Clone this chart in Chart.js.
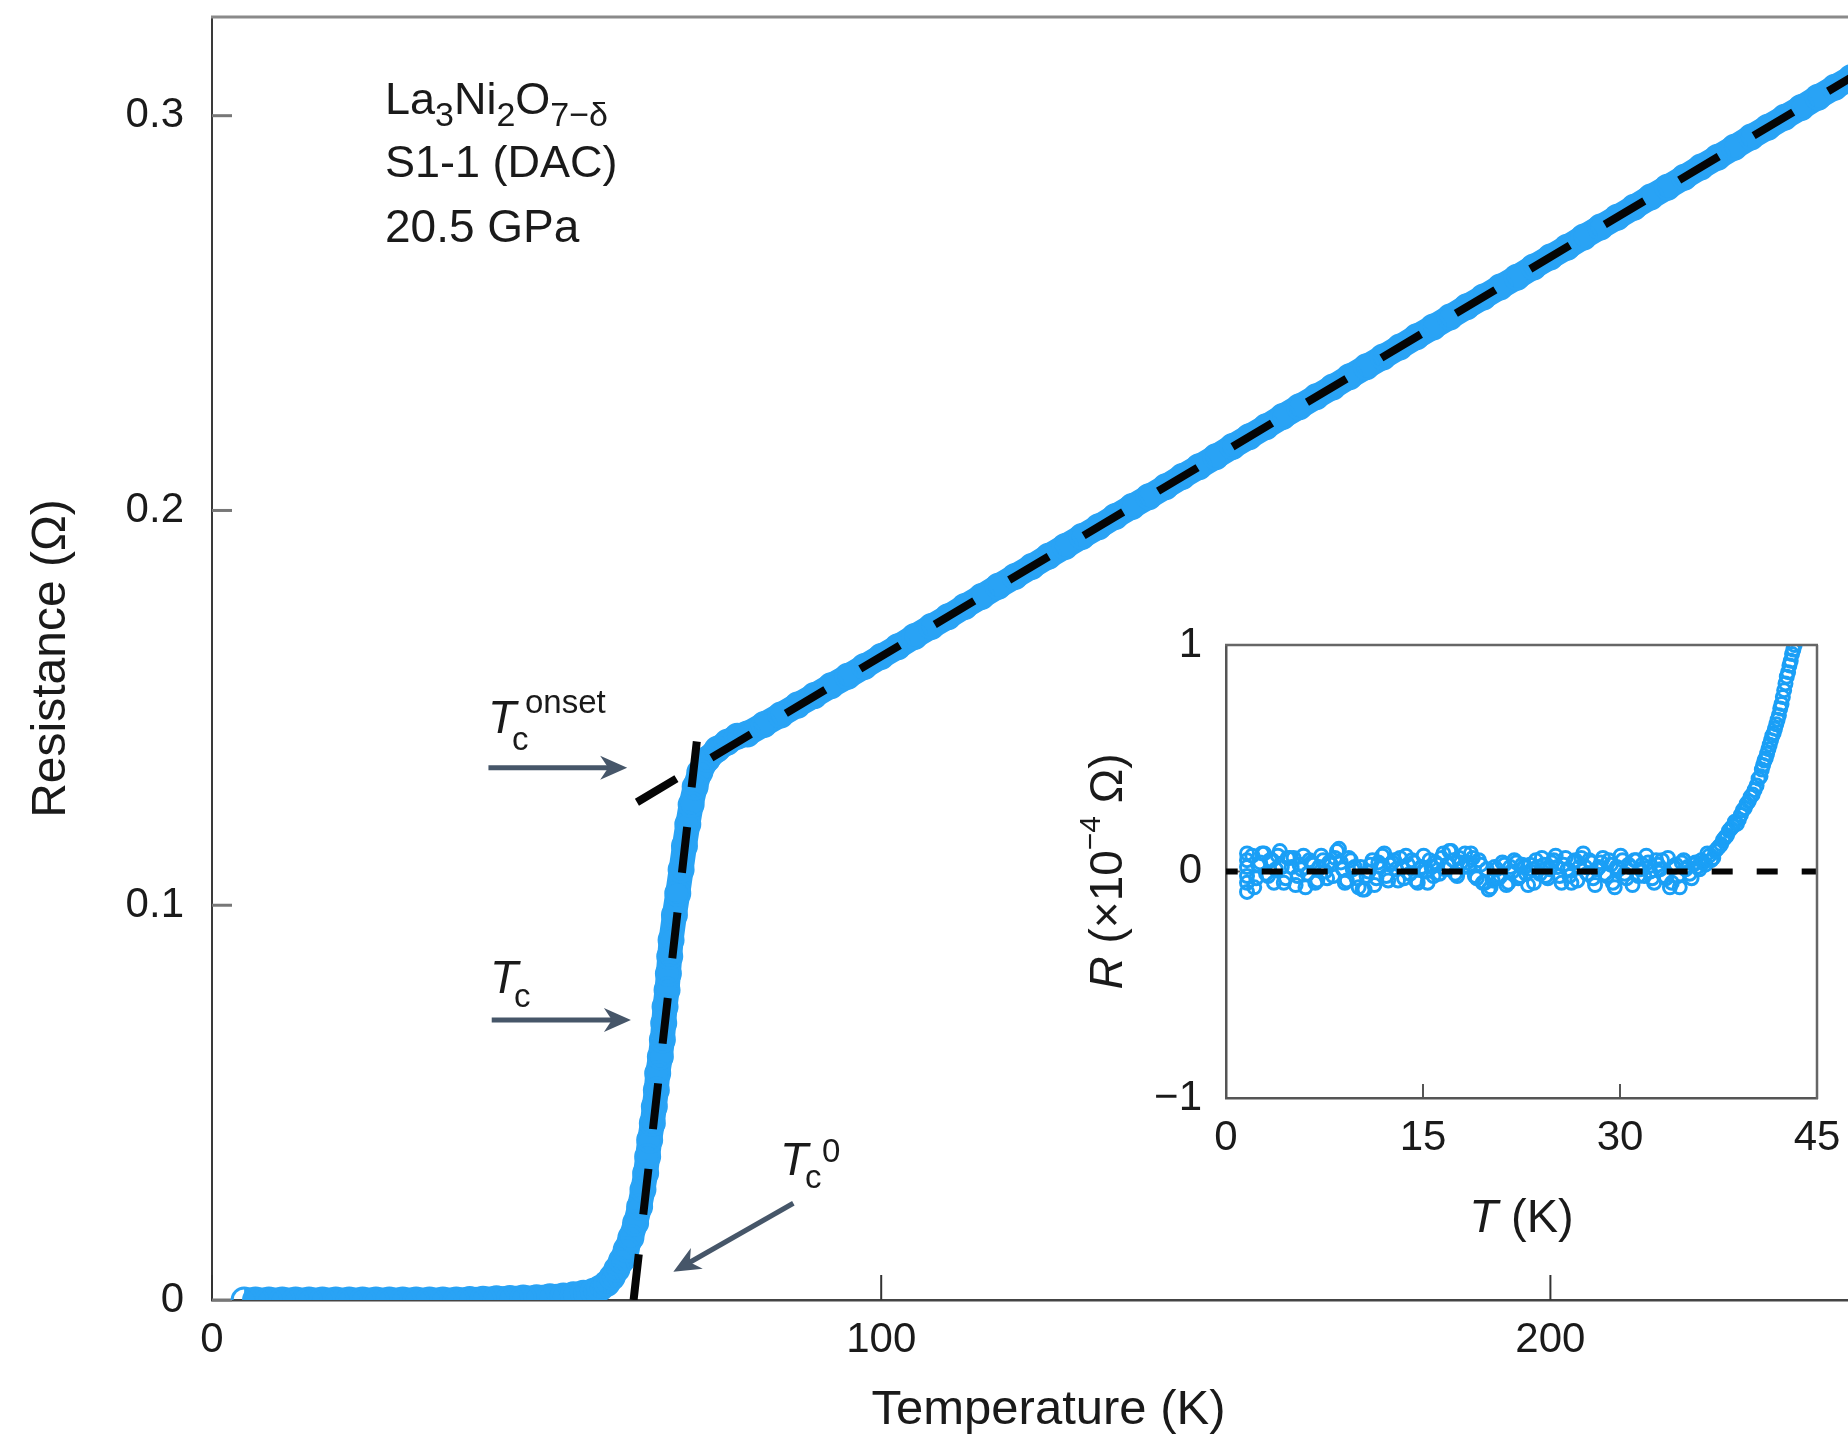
<!DOCTYPE html>
<html>
<head>
<meta charset="utf-8">
<script src="https://cdn.jsdelivr.net/npm/chart.js@4.4.1/dist/chart.umd.min.js"></script>
<style>
  html, body { margin: 0; padding: 0; background: #fff; overflow: hidden; }
  #wrap { position: relative; width: 1848px; height: 1435px; overflow: hidden; background: #fff; }
  #main { position: absolute; left: 0; top: 0; width: 1885px; height: 1435px; }
  #inset { position: absolute; left: 1040px; top: 600px; width: 820px; height: 680px; }
</style>
</head>
<body>
<div id="wrap">
  <canvas id="main" width="1885" height="1435"></canvas>
  <canvas id="inset" width="820" height="680"></canvas>
</div>
<script>
const FONT = '"Liberation Sans", Arial, Helvetica, sans-serif';
const INK = '#1a1a1a';
const BLUE = '#29a3f5';
const INSET_BLUE = '#1a9ff6';
const ARROW = '#465669';

// Resistance versus temperature: T in K, R in ohm
const curveT = [
  4.8, 6.5, 8.5, 10.5, 12.5, 14.5, 16.5, 18.5, 20.5, 22.5,
  24.5, 26.5, 28.5, 30.5, 32.5, 34.5, 36.5, 38.5, 40.5, 42.5,
  44.5, 46.5, 48.5, 50.5, 52.5, 54.0, 55.5, 57.0, 58.0, 59.0,
  59.8, 60.5, 61.2, 61.9, 62.6, 63.3, 63.9, 64.4, 64.8, 65.1,
  65.4, 65.8, 66.1, 66.4, 66.6, 67.0, 67.3, 67.5, 67.7, 68.0,
  68.2, 68.4, 68.6, 69.1, 69.6, 70.1, 70.6, 71.1, 71.6, 72.2,
  72.9, 74.0, 75.5, 77.0, 78.5,
  80, 82.5, 85, 87.5, 90, 92.5, 95, 97.5, 100, 102.5,
  105, 107.5, 110, 112.5, 115, 117.5, 120, 122.5, 125, 127.5,
  130, 132.5, 135, 137.5, 140, 142.5, 145, 147.5, 150, 152.5,
  155, 157.5, 160, 162.5, 165, 167.5, 170, 172.5, 175, 177.5,
  180, 182.5, 185, 187.5, 190, 192.5, 195, 197.5, 200, 202.5,
  205, 207.5, 210, 212.5, 215, 217.5, 220, 222.5, 225, 227.5,
  230, 232.5, 235, 237.5, 240, 242.5, 245, 247.5, 250
];
const curveR = [
  0, 0, 0, 0, 0, 0, 0, 0, 0, 0,
  0, 0, 0, 0, 0, 0, 0, 0.0001, 0.0002, 0.0003,
  0.0004, 0.0005, 0.0006, 0.0008, 0.0010, 0.0013, 0.0017, 0.0022, 0.0030, 0.0042,
  0.0058, 0.0078, 0.0100, 0.0128, 0.0158, 0.0195, 0.0236, 0.0280, 0.0321, 0.0363,
  0.0405, 0.0448, 0.0490, 0.0532, 0.0574, 0.0616, 0.0659, 0.0701, 0.0743, 0.0785,
  0.0827, 0.0870, 0.0912, 0.0975, 0.1030, 0.1090, 0.1150, 0.1205, 0.1255, 0.1300,
  0.1337, 0.1370, 0.1395, 0.1413, 0.1428,
  0.1434, 0.1458, 0.1482, 0.1507, 0.1531, 0.1556, 0.1580, 0.1605, 0.1630, 0.1655,
  0.1681, 0.1706, 0.1731, 0.1757, 0.1782, 0.1808, 0.1833, 0.1858, 0.1884, 0.1909,
  0.1934, 0.1959, 0.1985, 0.2010, 0.2035, 0.2060, 0.2086, 0.2111, 0.2136, 0.2162,
  0.2187, 0.2212, 0.2238, 0.2263, 0.2288, 0.2313, 0.2339, 0.2364, 0.2389, 0.2414,
  0.2440, 0.2465, 0.2490, 0.2516, 0.2541, 0.2566, 0.2591, 0.2617, 0.2642, 0.2667,
  0.2693, 0.2718, 0.2743, 0.2768, 0.2794, 0.2819, 0.2844, 0.2870, 0.2895, 0.2920,
  0.2946, 0.2971, 0.2996, 0.3021, 0.3047, 0.3072, 0.3097, 0.3122, 0.3148
];

// Dashed linear guides: normal-state line and transition line
const normalFitT = [63.5, 250];
const normalFitR = [0.1261, 0.3148];
const transitionFitT = [63.0, 72.5];
const transitionFitR = [0, 0.1423];

// Main axis ticks
const xTickValues = [0, 100, 200];
const xTickLabels = ['0', '100', '200'];
const yTickValues = [0, 0.1, 0.2, 0.3];
const yTickLabels = ['0', '0.1', '0.2', '0.3'];

// Inset: low-temperature resistance, R in units of 1e-4 ohm (two interleaved sweeps)
const insetT = [
  1.6, 1.6, 1.6, 1.6, 1.6, 1.6,
  2.0, 2.3, 2.6, 2.9, 3.2, 3.5, 3.8, 4.1, 4.4, 4.7,
  5.0, 5.3, 5.6, 5.9, 6.2, 6.5, 6.8, 7.1, 7.4, 7.7,
  8.0, 8.3, 8.6, 8.9, 9.2, 9.5, 9.8, 10.1, 10.4, 10.7,
  11.0, 11.3, 11.6, 11.9, 12.2, 12.5, 12.8, 13.1, 13.4, 13.7,
  14.0, 14.3, 14.6, 14.9, 15.2, 15.5, 15.8, 16.1, 16.4, 16.7,
  17.0, 17.3, 17.6, 17.9, 18.2, 18.5, 18.8, 19.1, 19.4, 19.7,
  20.0, 20.3, 20.6, 20.9, 21.2, 21.5, 21.8, 22.1, 22.4, 22.7,
  23.0, 23.3, 23.6, 23.9, 24.2, 24.5, 24.8, 25.1, 25.4, 25.7,
  26.0, 26.3, 26.6, 26.9, 27.2, 27.5, 27.8, 28.1, 28.4, 28.7,
  29.0, 29.3, 29.6, 29.9, 30.2, 30.5, 30.8, 31.1, 31.4, 31.7,
  32.0, 32.3, 32.6, 32.9, 33.2, 33.5, 33.8, 34.1, 34.4, 34.7,
  35.0, 35.3, 35.6, 35.9, 36.2, 36.5, 36.8, 37.1, 37.4, 37.7,
  38.0, 38.3, 38.6, 38.9, 39.2, 39.5, 39.8, 40.1, 40.4, 40.7,
  40.9, 41.1, 41.3, 41.5, 41.7, 41.9, 42.1, 42.3, 42.5, 42.7,
  42.9, 43.1, 43.3,
  2.15, 2.45, 2.75, 3.05, 3.35, 3.65, 3.95, 4.25, 4.55, 4.85,
  5.15, 5.45, 5.75, 6.05, 6.35, 6.65, 6.95, 7.25, 7.55, 7.85,
  8.15, 8.45, 8.75, 9.05, 9.35, 9.65, 9.95, 10.25, 10.55, 10.85,
  11.15, 11.45, 11.75, 12.05, 12.35, 12.65, 12.95, 13.25, 13.55, 13.85,
  14.15, 14.45, 14.75, 15.05, 15.35, 15.65, 15.95, 16.25, 16.55, 16.85,
  17.15, 17.45, 17.75, 18.05, 18.35, 18.65, 18.95, 19.25, 19.55, 19.85,
  20.15, 20.45, 20.75, 21.05, 21.35, 21.65, 21.95, 22.25, 22.55, 22.85,
  23.15, 23.45, 23.75, 24.05, 24.35, 24.65, 24.95, 25.25, 25.55, 25.85,
  26.15, 26.45, 26.75, 27.05, 27.35, 27.65, 27.95, 28.25, 28.55, 28.85,
  29.15, 29.45, 29.75, 30.05, 30.35, 30.65, 30.95, 31.25, 31.55, 31.85,
  32.15, 32.45, 32.75, 33.05, 33.35, 33.65, 33.95, 34.25, 34.55, 34.85,
  35.15, 35.45, 35.75, 36.05,
  36.35, 36.65, 36.95, 37.25, 37.55, 37.85, 38.15, 38.45, 38.75, 39.05,
  39.35, 39.65, 39.95, 40.25, 40.55, 40.8, 41.0, 41.2, 41.4, 41.6,
  41.8, 42.0, 42.2, 42.4, 42.6, 42.8, 43.0, 43.2
];
const insetR = [
  0.08, 0.05, 0.02, -0.02, -0.05, -0.09,
  0.07, -0.03, 0.04, 0.08, -0.02, 0.05, 0.01, 0.09, -0.05, 0.06,
  0.02, -0.06, 0.03, 0.07, -0.01, 0.04, -0.05, 0.02, 0.05, -0.03,
  0.03, 0.06, 0.10, 0.01, -0.04, 0.05, 0.02, -0.07, -0.08, -0.02,
  0.03, -0.06, 0.04, 0.07, -0.02, 0.03, 0.05, -0.04, 0.02, 0.07,
  -0.01, 0.04, -0.05, 0.02, 0.00, 0.05, -0.02, 0.03, 0.06, 0.01,
  0.09, 0.05, -0.02, 0.04, 0.08, 0.02, 0.06, -0.03, 0.03, -0.05,
  -0.08, -0.04, 0.01, -0.02, 0.03, -0.05, 0.00, 0.04, -0.02, 0.02,
  -0.06, 0.01, 0.05, -0.01, 0.03, -0.03, 0.04, 0.07, -0.02, 0.03,
  0.01, -0.05, 0.05, 0.02, 0.08, -0.01, 0.04, -0.06, 0.02, 0.06,
  -0.02, 0.03, -0.07, 0.01, 0.05, -0.03, 0.02, 0.05, -0.02, 0.03,
  0.07, 0.00, -0.05, 0.03, 0.05, -0.03, -0.07, 0.02, -0.02, 0.04,
  0.01, -0.01, 0.03, 0.02, 0.05, 0.03, 0.07, 0.06, 0.10, 0.12,
  0.15, 0.18, 0.20, 0.21, 0.25, 0.28, 0.31, 0.34, 0.38, 0.42,
  0.47, 0.50, 0.54, 0.58, 0.61, 0.65, 0.69, 0.74, 0.80, 0.86,
  0.91, 0.96, 1.00,
  -0.07, 0.03, 0.08, -0.01, 0.05, -0.05, 0.07, 0.02, -0.03, 0.06,
  0.06, -0.02, 0.01, -0.07, 0.05, 0.03, -0.04, 0.07, 0.00, 0.04,
  -0.02, 0.09, 0.04, -0.05, 0.06, 0.01, -0.03, 0.02, -0.08, 0.00,
  0.05, -0.03, 0.02, 0.08, -0.04, 0.04, 0.01, 0.06, -0.03, 0.03,
  0.05, -0.04, 0.01, 0.07, -0.05, 0.02, 0.04, -0.01, 0.08, 0.03,
  0.09, -0.01, 0.06, 0.02, 0.04, 0.08, -0.02, 0.05, -0.05, 0.01,
  -0.07, 0.02, -0.03, 0.04, -0.06, 0.02, 0.05, -0.03, 0.03, -0.01,
  0.03, -0.05, 0.02, 0.06, -0.02, 0.01, 0.05, 0.02, -0.05, 0.06,
  -0.02, 0.04, -0.04, 0.06, 0.02, 0.05, -0.03, 0.01, 0.04, -0.01,
  0.05, -0.05, 0.02, 0.07, -0.01, 0.03, -0.06, 0.05, 0.01, -0.02,
  0.04, -0.03, 0.05, 0.01, -0.02, 0.06, -0.05, 0.03, -0.07, 0.05,
  0.02, -0.03, 0.04, 0.01,
  0.04, 0.08, 0.05, 0.09, 0.11, 0.14, 0.16, 0.19, 0.22, 0.23,
  0.27, 0.30, 0.33, 0.36, 0.41, 0.45, 0.49, 0.52, 0.56, 0.60,
  0.63, 0.67, 0.72, 0.77, 0.83, 0.88, 0.93, 0.98
];
const insetZeroT = [0, 45];
const insetZeroR = [0, 0];
const insetXTickValues = [0, 15, 30, 45];
const insetXTickLabels = ['0', '15', '30', '45'];
const insetYTickValues = [-1, 0, 1];
const insetYTickLabels = ['\u22121', '0', '1'];

const pts = (xs, ys) => xs.map((x, i) => ({ x, y: ys[i] }));
const font = (size, style) => (style ? style + ' ' : '') + size + 'px ' + FONT;

// ---------- text helpers ----------
function drawRuns(ctx, x, y, runs) {
  let cur = 0;
  runs.forEach(r => {
    ctx.font = r.f;
    const xx = r.ox !== undefined ? r.ox : cur;
    ctx.fillText(r.t, x + xx, y + (r.oy || 0));
    cur = xx + ctx.measureText(r.t).width;
  });
  return cur;
}
function runsWidth(ctx, runs) {
  let cur = 0;
  runs.forEach(r => {
    ctx.font = r.f;
    const xx = r.ox !== undefined ? r.ox : cur;
    cur = xx + ctx.measureText(r.t).width;
  });
  return cur;
}
function drawArrow(ctx, x0, y0, x1, y1, s) {
  const ang = Math.atan2(y1 - y0, x1 - x0);
  const ux = Math.cos(ang), uy = Math.sin(ang);
  const bx = x1 - ux * s.head, by = y1 - uy * s.head;
  const nx = x1 - ux * (s.head - s.notch), ny = y1 - uy * (s.head - s.notch);
  ctx.strokeStyle = s.color;
  ctx.fillStyle = s.color;
  ctx.lineWidth = s.width;
  ctx.lineCap = 'butt';
  ctx.beginPath();
  ctx.moveTo(x0, y0);
  ctx.lineTo(nx + ux, ny + uy);
  ctx.stroke();
  ctx.beginPath();
  ctx.moveTo(x1, y1);
  ctx.lineTo(bx - uy * s.half, by + ux * s.half);
  ctx.lineTo(nx, ny);
  ctx.lineTo(bx + uy * s.half, by - ux * s.half);
  ctx.closePath();
  ctx.fill();
}

// ---------- plugins ----------
// Inward tick marks plus the extra frame sides (top / right)
const frame = {
  id: 'frame',
  beforeDatasetsDraw(chart, args, o) {
    const { ctx, chartArea: a, scales: { x, y } } = chart;
    ctx.save();
    ctx.lineCap = 'butt';
    ctx.strokeStyle = o.xTickColor;
    ctx.lineWidth = o.xTickWidth;
    x.ticks.forEach(t => {
      const p = x.getPixelForValue(t.value);
      ctx.beginPath();
      ctx.moveTo(p, a.bottom);
      ctx.lineTo(p, a.bottom - o.xTickLength);
      ctx.stroke();
    });
    ctx.strokeStyle = o.yTickColor;
    ctx.lineWidth = o.yTickWidth;
    y.ticks.forEach(t => {
      const p = y.getPixelForValue(t.value);
      ctx.beginPath();
      ctx.moveTo(a.left, p);
      ctx.lineTo(a.left + o.yTickLength, p);
      ctx.stroke();
    });
    ctx.restore();
  },
  afterDraw(chart, args, o) {
    const { ctx, chartArea: a } = chart;
    ctx.save();
    ctx.strokeStyle = o.frameColor;
    ctx.lineWidth = o.frameWidth;
    ctx.beginPath();
    ctx.moveTo(a.left - 1, a.top);
    ctx.lineTo(a.right + (o.right ? 1 : 0), a.top);
    if (o.right) {
      ctx.moveTo(a.right, a.top);
      ctx.lineTo(a.right, a.bottom + 1);
    }
    ctx.stroke();
    ctx.restore();
  }
};

// Text labels and arrows anchored in data coordinates
const notes = {
  id: 'notes',
  afterDraw(chart, args, o) {
    const { ctx, scales: { x, y } } = chart;
    const px = v => x.getPixelForValue(v);
    const py = v => y.getPixelForValue(v);
    ctx.save();
    ctx.fillStyle = INK;
    ctx.textAlign = 'left';
    ctx.textBaseline = 'alphabetic';
    o.labels.forEach(l => drawRuns(ctx, px(l.at[0]), py(l.at[1]), l.runs));
    o.arrows.forEach(a => drawArrow(ctx, px(a.from[0]), py(a.from[1]), px(a.to[0]), py(a.to[1]), o.arrowStyle));
    ctx.restore();
  }
};

// Mixed-style axis titles for the inset
const insetTitles = {
  id: 'insetTitles',
  afterDraw(chart, args, o) {
    const { ctx, chartArea: a } = chart;
    ctx.save();
    ctx.fillStyle = INK;
    ctx.textAlign = 'left';
    ctx.textBaseline = 'alphabetic';
    const wx = runsWidth(ctx, o.xRuns);
    drawRuns(ctx, (a.left + a.right) / 2 - wx / 2, a.bottom + o.xTitleOffset, o.xRuns);
    ctx.translate(a.left - o.yTitleOffset, (a.top + a.bottom) / 2);
    ctx.rotate(-Math.PI / 2);
    const wy = runsWidth(ctx, o.yRuns);
    drawRuns(ctx, -wy / 2, 0, o.yRuns);
    ctx.restore();
  }
};

const setTicks = values => scale => { scale.ticks = values.map(v => ({ value: v })); };
// Fixed axis box size, without the automatic label overhang padding
const fixSize = (prop, size) => scale => {
  scale[prop] = size;
  scale.paddingTop = 0;
  scale.paddingBottom = 0;
  scale.paddingLeft = 0;
  scale.paddingRight = 0;
};

// ---------- main chart ----------
new Chart(document.getElementById('main'), {
  type: 'scatter',
  data: {
    datasets: [
      {
        label: 'Normal-state linear fit',
        data: pts(normalFitT, normalFitR),
        showLine: true,
        borderColor: '#050505',
        borderWidth: 8,
        borderDash: [46, 40.7],
        borderCapStyle: 'butt',
        pointRadius: 0,
        clip: 0,
        order: 0
      },
      {
        label: 'Transition linear fit',
        data: pts(transitionFitT, transitionFitR),
        showLine: true,
        borderColor: '#050505',
        borderWidth: 8,
        borderDash: [46, 40],
        borderCapStyle: 'butt',
        pointRadius: 0,
        clip: 0,
        order: 1
      },
      {
        label: 'R(T)',
        data: pts(curveT, curveR),
        showLine: true,
        borderColor: BLUE,
        borderWidth: 25,
        borderJoinStyle: 'round',
        borderCapStyle: 'butt',
        tension: 0,
        pointStyle: 'circle',
        pointRadius: 12,
        pointBorderWidth: 3,
        pointBorderColor: BLUE,
        pointBackgroundColor: 'rgba(0,0,0,0)',
        clip: 0,
        order: 2
      }
    ]
  },
  options: {
    responsive: false,
    animation: false,
    devicePixelRatio: 1,
    events: [],
    layout: { autoPadding: false, padding: { top: 17, right: 0, bottom: 0, left: 0 } },
    plugins: {
      legend: { display: false },
      tooltip: { enabled: false },
      frame: {
        xTickColor: '#333', xTickWidth: 2, xTickLength: 25,
        yTickColor: '#777', yTickWidth: 3, yTickLength: 20,
        frameColor: '#8a8a8a', frameWidth: 3, right: false
      },
      notes: {
        arrowStyle: { color: ARROW, width: 5, head: 27, half: 12, notch: 8 },
        labels: [
          { at: [25.85, 0.3004], runs: [
            { t: 'La', f: font(45) }, { t: '3', f: font(34), oy: 12 },
            { t: 'Ni', f: font(45) }, { t: '2', f: font(34), oy: 12 },
            { t: 'O', f: font(45) }, { t: '7\u2212\u03b4', f: font(34), oy: 12 }
          ] },
          { at: [25.85, 0.2844], runs: [{ t: 'S1-1 (DAC)', f: font(45) }] },
          { at: [25.85, 0.2680], runs: [{ t: '20.5 GPa', f: font(46) }] },
          { at: [41.24, 0.1436], runs: [
            { t: 'T', f: font(46, 'italic') },
            { t: 'c', f: font(33), ox: 24, oy: 17 },
            { t: 'onset', f: font(33), ox: 37, oy: -20 }
          ] },
          { at: [41.54, 0.0778], runs: [
            { t: 'T', f: font(46, 'italic') },
            { t: 'c', f: font(33), ox: 24, oy: 14 }
          ] },
          { at: [84.88, 0.03166], runs: [
            { t: 'T', f: font(46, 'italic') },
            { t: 'c', f: font(33), ox: 25, oy: 13 },
            { t: '0', f: font(33), ox: 42, oy: -13 }
          ] }
        ],
        arrows: [
          { from: [41.31, 0.1348], to: [62.04, 0.1348] },
          { from: [41.80, 0.0709], to: [62.60, 0.0709] },
          { from: [86.87, 0.0245], to: [68.94, 0.00717] }
        ]
      }
    },
    scales: {
      x: {
        type: 'linear',
        min: 0,
        max: 250,
        afterBuildTicks: setTicks(xTickValues),
        afterFit: fixSize('height', 135),
        grid: { display: false, drawTicks: false },
        border: { display: true, color: '#444', width: 2.5 },
        ticks: {
          padding: 15,
          color: INK,
          font: { family: FONT, size: 42 },
          maxRotation: 0,
          autoSkip: false,
          callback: (v, i) => xTickLabels[i]
        },
        title: {
          display: true,
          text: 'Temperature (K)',
          color: INK,
          font: { family: FONT, size: 49, lineHeight: 1 },
          padding: { top: 0, bottom: 0 }
        }
      },
      y: {
        type: 'linear',
        min: 0,
        max: 0.325,
        afterBuildTicks: setTicks(yTickValues),
        afterFit: fixSize('width', 212),
        grid: { display: false, drawTicks: false },
        border: { display: true, color: '#3a3a3a', width: 2 },
        ticks: {
          padding: 28,
          color: INK,
          font: { family: FONT, size: 42 },
          autoSkip: false,
          callback: (v, i) => yTickLabels[i]
        },
        title: {
          display: true,
          text: 'Resistance (\u03a9)',
          color: INK,
          font: { family: FONT, size: 48, lineHeight: 1 },
          padding: { top: 28, bottom: 0 }
        }
      }
    }
  },
  plugins: [frame, notes]
});

// ---------- inset chart ----------
new Chart(document.getElementById('inset'), {
  type: 'scatter',
  data: {
    datasets: [
      {
        label: 'Zero line',
        data: pts(insetZeroT, insetZeroR),
        showLine: true,
        borderColor: '#050505',
        borderWidth: 6,
        borderDash: [21, 24],
        borderDashOffset: 9.3,
        borderCapStyle: 'butt',
        pointRadius: 0,
        clip: 0,
        order: 0
      },
      {
        label: 'R(T) low temperature',
        data: pts(insetT, insetR),
        showLine: false,
        pointStyle: 'circle',
        pointRadius: 6.5,
        pointBorderWidth: 3,
        pointBorderColor: INSET_BLUE,
        pointBackgroundColor: 'rgba(0,0,0,0)',
        clip: 0,
        order: 1
      }
    ]
  },
  options: {
    responsive: false,
    animation: false,
    devicePixelRatio: 1,
    events: [],
    layout: { autoPadding: false, padding: { top: 45, right: 43, bottom: 0, left: 0 } },
    plugins: {
      legend: { display: false },
      tooltip: { enabled: false },
      frame: {
        xTickColor: '#555', xTickWidth: 2, xTickLength: 14,
        yTickColor: '#555', yTickWidth: 2, yTickLength: 14,
        frameColor: '#666', frameWidth: 2.5, right: true
      },
      insetTitles: {
        xTitleOffset: 134,
        yTitleOffset: 104,
        xRuns: [{ t: 'T', f: font(47, 'italic') }, { t: ' (K)', f: font(47) }],
        yRuns: [
          { t: 'R', f: font(46, 'italic') },
          { t: ' (\u00d710', f: font(46) },
          { t: '\u22124', f: font(30), oy: -22 },
          { t: ' \u03a9)', f: font(46) }
        ]
      }
    },
    scales: {
      x: {
        type: 'linear',
        min: 0,
        max: 45,
        afterBuildTicks: setTicks(insetXTickValues),
        afterFit: fixSize('height', 182),
        grid: { display: false, drawTicks: false },
        border: { display: true, color: '#555', width: 2.5 },
        ticks: {
          padding: 15,
          color: INK,
          font: { family: FONT, size: 42 },
          maxRotation: 0,
          autoSkip: false,
          callback: (v, i) => insetXTickLabels[i]
        }
      },
      y: {
        type: 'linear',
        min: -1,
        max: 1,
        afterBuildTicks: setTicks(insetYTickValues),
        afterFit: fixSize('width', 186),
        grid: { display: false, drawTicks: false },
        border: { display: true, color: '#555', width: 2.5 },
        ticks: {
          padding: 24,
          color: INK,
          font: { family: FONT, size: 42 },
          autoSkip: false,
          callback: (v, i) => insetYTickLabels[i]
        }
      }
    }
  },
  plugins: [frame, insetTitles]
});
</script>
</body>
</html>
